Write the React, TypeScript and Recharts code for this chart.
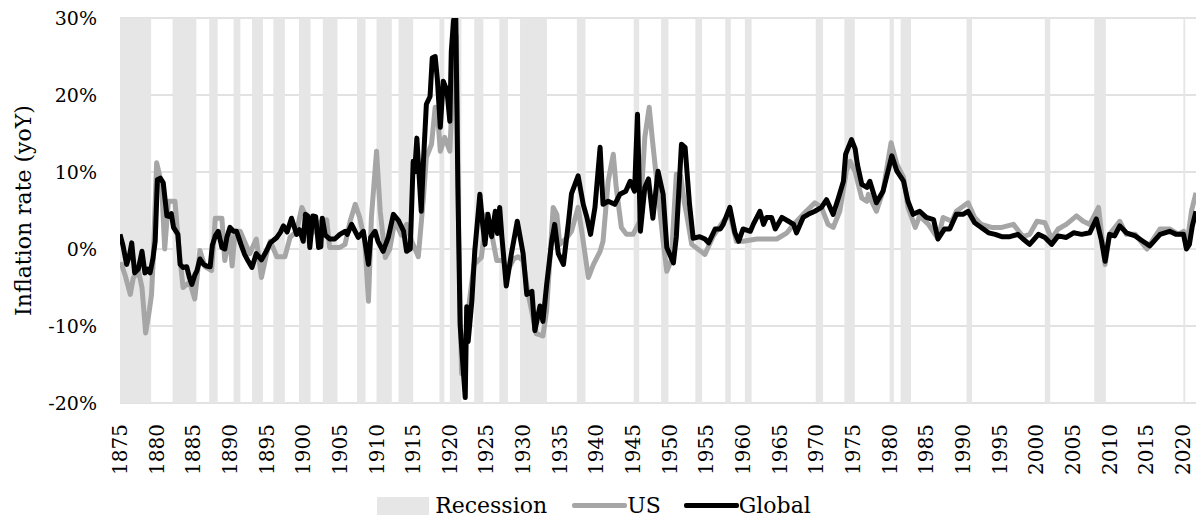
import React from 'react';
import { ComposedChart, Line, XAxis, YAxis, CartesianGrid, ReferenceArea } from 'recharts';

const FONT = '"DejaVu Serif", serif';

const xTicks = [
  1875, 1880, 1885, 1890, 1895, 1900, 1905, 1910, 1915, 1920, 1925, 1930, 1935, 1940, 1945,
  1950, 1955, 1960, 1965, 1970, 1975, 1980, 1985, 1990, 1995, 2000, 2005, 2010, 2015, 2020,
];
const yTicks = [-20, -10, 0, 10, 20, 30];

// NBER recession periods (decimal years)
const recessionStarts = [
  1873.75, 1882.17, 1887.17, 1890.5, 1893.0, 1895.92, 1899.42, 1902.67, 1907.33, 1910.0,
  1913.0, 1918.58, 1920.0, 1923.33, 1926.75, 1929.58, 1937.33, 1945.08, 1948.83, 1953.5,
  1957.58, 1960.25, 1969.92, 1973.83, 1980.0, 1981.5, 1990.5, 2001.17, 2007.92, 2020.08,
];
const recessionEnds = [
  1879.25, 1885.42, 1888.33, 1891.42, 1894.5, 1897.5, 1901.0, 1904.67, 1908.5, 1912.08,
  1915.0, 1919.25, 1921.58, 1924.58, 1927.92, 1933.25, 1938.5, 1945.83, 1949.83, 1954.42,
  1958.33, 1961.17, 1970.92, 1975.25, 1980.58, 1982.92, 1991.25, 2001.92, 2009.5, 2020.33,
];

const usYears = [
  1875.0, 1875.2, 1875.7, 1876.4, 1876.8, 1877.5, 1878.0, 1878.5, 1879.0, 1879.3, 1879.5, 1880.0,
  1880.3, 1880.7, 1881.1, 1881.6, 1882.5, 1882.9, 1883.6, 1884.5, 1885.2, 1885.9, 1886.6, 1887.5,
  1888.0, 1888.9, 1889.3, 1889.9, 1890.3, 1890.7, 1891.4, 1892.7, 1893.6, 1894.3, 1895.0, 1895.5,
  1896.4, 1897.5, 1898.2, 1899.1, 1899.8, 1900.5, 1901.1, 1902.3, 1903.2, 1903.6, 1905.0, 1905.7,
  1906.4, 1907.1, 1907.7, 1908.4, 1908.9, 1909.3, 1910.0, 1910.5, 1911.2, 1911.8, 1912.5, 1913.4,
  1914.1, 1914.8, 1915.7, 1916.4, 1916.8, 1917.5, 1918.0, 1918.4, 1918.7, 1919.3, 1920.0, 1920.5,
  1920.9, 1921.2, 1921.6, 1922.1, 1922.7, 1923.3, 1924.3, 1925.0, 1925.6, 1926.4, 1927.3, 1927.8,
  1928.7, 1929.3, 1930.0, 1930.7, 1931.8, 1932.7, 1933.2, 1934.1, 1934.6, 1935.0, 1935.9, 1936.6,
  1937.5, 1938.0, 1938.9, 1939.6, 1940.5, 1940.9, 1941.6, 1942.3, 1942.7, 1943.4, 1944.1, 1945.0,
  1945.9, 1946.6, 1947.2, 1947.7, 1948.2, 1949.1, 1949.6, 1950.2, 1950.9, 1951.5, 1952.0, 1952.3,
  1953.0, 1954.8, 1955.9, 1957.3, 1958.2, 1959.1, 1960.0, 1961.9, 1963.2, 1964.6, 1966.0, 1966.9,
  1968.2, 1969.8, 1970.7, 1971.6, 1972.3, 1973.2, 1974.1, 1974.6, 1975.3, 1976.2, 1976.9, 1977.1,
  1978.2, 1979.1, 1980.2, 1981.0, 1981.9, 1982.5, 1983.5, 1984.1, 1985.3, 1986.6, 1987.3, 1988.5,
  1989.1, 1990.7, 1991.6, 1992.5, 1993.9, 1995.3, 1996.9, 1998.2, 1999.1, 2000.1, 2001.2, 2002.1,
  2003.0, 2004.1, 2005.5, 2006.4, 2007.3, 2008.5, 2009.4, 2010.0, 2011.4, 2012.3, 2013.5, 2015.1,
  2016.0, 2016.9, 2018.2, 2019.4, 2020.1, 2020.5, 2021.2, 2021.8,
];
const usValues = [
  -2.2, -2.0, -3.4, -5.9, -3.8, -2.8, -5.0, -10.9, -8.0, -5.9, -2.0, 11.2,
  10.0, 8.0, 0.0, 6.2, 6.2, 1.5, -5.0, -4.3, -6.5, -0.2, -2.3, -2.8,
  4.0, 4.0, -1.5, 2.0, -2.2, 2.3, 2.3, -0.6, 1.3, -3.7, -0.6, 1.0,
  -1.0, -1.0, 1.5, 2.3, 5.4, 4.0, 1.9, 3.5, 3.8, 0.2, 0.2, 0.6,
  3.6, 5.8, 4.1, 1.0, -6.8, 4.1, 12.7, 4.9, -1.1, 0.0, 3.7, 1.8,
  3.2, 1.0, -1.0, 6.7, 11.9, 13.6, 18.4, 16.6, 12.7, 14.5, 12.7, 23.0,
  27.7, 2.0, -16.2, -12.0, -6.5, -2.0, -1.1, 4.5, 2.5, -1.5, -1.5, -3.0,
  -1.3, -1.0, -1.5, -5.9, -11.0, -11.3, -8.0, 5.4, 4.5, 0.6, 1.4, 2.3,
  5.4, 2.3, -3.7, -2.0, -0.3, 1.0, 8.8, 12.3, 8.0, 2.8, 1.9, 1.9,
  3.6, 14.5, 18.4, 13.6, 9.1, 1.0, -2.9, -1.5, 9.7, 9.5, 6.0, 4.5,
  0.6, -0.7, 1.6, 3.6, 4.5, 1.0, 1.0, 1.3, 1.3, 1.3, 2.1, 3.2,
  4.5, 6.0, 5.4, 3.2, 2.8, 4.9, 10.1, 11.4, 10.0, 6.6, 6.2, 7.1,
  4.9, 7.5, 13.8, 11.0, 9.3, 5.4, 2.8, 4.3, 3.2, 1.3, 4.1, 3.6,
  4.9, 6.0, 4.1, 3.2, 2.8, 2.8, 3.2, 1.6, 1.9, 3.6, 3.4, 1.3,
  2.6, 3.2, 4.3, 3.6, 3.2, 5.4, -2.0, 1.9, 3.6, 1.9, 1.9, 0.0,
  1.3, 2.6, 2.6, 1.9, 2.3, 0.2, 5.0, 7.3,
];

const globalYears = [
  1875.0, 1875.4, 1875.9, 1876.3, 1876.6, 1877.0, 1877.5, 1878.0, 1878.4, 1878.8, 1879.1, 1879.5,
  1879.8, 1880.1, 1880.5, 1880.9, 1881.2, 1881.4, 1881.8, 1882.0, 1882.3, 1882.9, 1883.2, 1883.6,
  1884.1, 1884.5, 1884.8, 1885.2, 1885.5, 1885.9, 1886.4, 1886.8, 1887.3, 1887.6, 1888.0, 1888.4,
  1888.9, 1889.3, 1889.6, 1890.0, 1890.5, 1890.9, 1891.5, 1892.0, 1892.5, 1893.0, 1893.6, 1894.3,
  1894.9, 1895.5, 1896.4, 1896.9, 1897.3, 1897.8, 1898.4, 1899.1, 1899.5, 1900.0, 1900.3, 1900.6,
  1900.9, 1901.3, 1901.7, 1902.1, 1902.4, 1902.6, 1903.0, 1903.6, 1904.3, 1905.0, 1905.7, 1906.0,
  1906.6, 1907.5, 1908.2, 1908.9, 1909.2, 1909.8, 1910.2, 1910.9, 1911.6, 1912.3, 1913.0, 1913.7,
  1914.1, 1914.6, 1915.0, 1915.2, 1915.5, 1916.1, 1916.4, 1916.8, 1917.3, 1917.6, 1918.0, 1918.3,
  1918.7, 1919.1, 1919.6, 1920.0, 1920.2, 1920.5, 1920.8, 1921.1, 1921.4, 1921.7, 1922.1, 1922.3,
  1922.5, 1923.0, 1923.4, 1924.1, 1924.5, 1924.8, 1925.2, 1925.7, 1926.2, 1926.5, 1926.8, 1927.1,
  1927.7, 1928.4, 1929.2, 1930.0, 1930.5, 1931.2, 1931.6, 1932.3, 1932.7, 1933.2, 1933.9, 1934.3,
  1934.8, 1935.5, 1936.2, 1936.6, 1937.5, 1938.2, 1938.7, 1939.2, 1939.8, 1940.5, 1940.9, 1941.6,
  1942.5, 1943.2, 1944.0, 1944.6, 1945.2, 1945.6, 1946.0, 1946.6, 1947.1, 1947.7, 1948.4, 1949.1,
  1949.6, 1950.5, 1950.9, 1951.6, 1952.1, 1952.7, 1953.2, 1954.1, 1954.8, 1955.3, 1956.2, 1956.9,
  1957.3, 1958.2, 1958.9, 1959.4, 1960.0, 1961.0, 1961.4, 1962.3, 1962.8, 1963.2, 1963.9, 1964.4,
  1965.3, 1966.2, 1966.9, 1967.3, 1968.2, 1968.9, 1969.8, 1970.7, 1971.4, 1972.3, 1973.0, 1973.7,
  1974.0, 1974.8, 1975.3, 1975.6, 1976.2, 1976.9, 1977.3, 1978.2, 1979.1, 1980.3, 1981.0, 1981.9,
  1982.5, 1983.2, 1984.1, 1985.0, 1986.0, 1986.6, 1987.5, 1988.2, 1989.1, 1990.0, 1990.7, 1991.6,
  1992.5, 1993.5, 1994.4, 1995.3, 1996.4, 1997.5, 1998.2, 1999.1, 2000.3, 2001.2, 2002.1, 2003.0,
  2004.1, 2005.1, 2006.2, 2007.3, 2008.2, 2008.9, 2009.4, 2010.0, 2010.7, 2011.4, 2012.3, 2013.5,
  2014.4, 2015.5, 2016.9, 2018.2, 2019.1, 2020.1, 2020.5, 2020.9, 2021.3, 2021.8,
];
const globalValues = [
  1.9, 0.5, -2.0, -0.8, 0.8, -3.1, -2.6, -0.3, -3.1, -2.6, -3.1, -1.2,
  1.0, 9.0, 9.2, 8.6, 6.0, 4.3, 4.2, 4.6, 2.8, 1.9, -2.0, -2.4,
  -2.3, -3.8, -4.6, -3.4, -2.8, -1.3, -2.0, -2.2, -2.3, 0.5, 1.7, 2.3,
  0.2, 0.0, 1.6, 2.8, 2.3, 2.3, 0.6, -0.7, -1.6, -2.4, -0.6, -1.4,
  -0.4, 0.8, 1.5, 2.2, 3.0, 2.2, 4.0, 1.9, 2.5, 1.0, 4.5, 4.3,
  0.2, 4.3, 4.2, 0.2, 0.3, 4.0, 1.8, 1.3, 1.3, 1.9, 2.3, 1.9,
  3.2, 1.5, 2.3, -2.0, 1.5, 2.3, 1.0, -0.3, 1.5, 4.5, 3.7, 2.3,
  -0.3, 0.0, 11.4, 10.0, 14.4, 4.9, 11.4, 18.8, 19.8, 24.8, 25.0, 22.0,
  15.8, 21.8, 20.6, 16.6, 25.7, 29.6, 31.0, 8.0, -9.8, -14.0, -19.3, -7.5,
  -12.0, -6.8, -0.3, 7.1, 3.0, 0.6, 4.5, 1.6, 4.9, 2.0, 5.4, 1.6,
  -4.8, -0.6, 3.6, -0.6, -5.9, -5.5, -10.6, -7.4, -9.4, -4.7, 1.0, 3.2,
  -0.6, -2.0, 3.6, 7.2, 9.5, 5.8, 4.1, 1.9, 5.4, 13.2, 5.8, 6.2,
  5.8, 7.1, 7.5, 8.8, 7.5, 17.5, 2.3, 8.0, 9.1, 4.0, 10.1, 7.1,
  0.2, -1.8, 1.6, 13.6, 13.2, 5.8, 1.4, 1.6, 1.3, 0.8, 2.6, 2.6,
  3.2, 5.4, 2.1, 1.0, 2.6, 2.3, 3.2, 4.9, 3.2, 4.1, 4.1, 2.6,
  4.1, 3.6, 3.2, 2.1, 4.1, 4.5, 4.9, 5.4, 6.4, 4.5, 6.6, 8.8,
  12.3, 14.2, 13.0, 11.0, 8.4, 8.0, 8.8, 6.0, 7.5, 12.1, 10.1, 8.8,
  6.2, 4.5, 4.9, 4.1, 3.8, 1.3, 2.6, 2.6, 4.5, 4.5, 4.9, 3.4,
  2.8, 2.1, 1.9, 1.6, 1.6, 1.9, 1.3, 0.6, 1.9, 1.5, 0.6, 1.7,
  1.5, 2.1, 1.9, 2.1, 3.9, 1.1, -1.6, 1.9, 1.7, 3.0, 2.1, 1.7,
  1.1, 0.4, 1.9, 2.3, 1.9, 1.9, 0.0, 0.6, 3.0, 4.9,
];

const usData = usYears.map((year, i) => ({ year, value: usValues[i] }));
const globalData = globalYears.map((year, i) => ({ year, value: globalValues[i] }));

const YearTick = ({ x, y, payload }: any) => (
  <text
    x={x}
    y={y}
    transform={`rotate(-90 ${x} ${y})`}
    textAnchor="end"
    dy="0.35em"
    fontSize={20}
    fontFamily={FONT}
    fill="#000"
  >
    {payload.value}
  </text>
);

// axis title, centred on the plot height
const AxisTitle = ({ viewBox }: any) => {
  const cx = 23;
  const cy = viewBox.y + viewBox.height / 2;
  return (
    <text
      x={cx}
      y={cy}
      transform={`rotate(-90 ${cx} ${cy})`}
      textAnchor="middle"
      dominantBaseline="central"
      fontSize={22}
      fontFamily={FONT}
      fill="#000"
    >
      Inflation rate (yoY)
    </text>
  );
};

const legendText: React.CSSProperties = { fontFamily: FONT, fontSize: 22, color: '#000' };

const ChartLegend = () => (
  <div
    style={{
      position: 'absolute',
      top: 493,
      left: 0,
      width: 1198,
      display: 'flex',
      justifyContent: 'center',
      alignItems: 'center',
      paddingRight: 10,
      boxSizing: 'border-box',
    }}
  >
    <div style={{ width: 52, height: 18, background: '#e6e6e6', marginRight: 6 }} />
    <span style={legendText}>Recession</span>
    <div style={{ width: 55, height: 5, background: '#a6a6a6', marginLeft: 25, borderRadius: 2 }} />
    <span style={legendText}>US</span>
    <div style={{ width: 55, height: 5, background: '#000', marginLeft: 23, borderRadius: 2 }} />
    <span style={legendText}>Global</span>
  </div>
);

const App = () => {
  return (
    <div style={{ position: 'absolute', left: 0, top: 0, width: 1198, height: 522, background: '#fff' }}>
      <ComposedChart width={1198} height={522} margin={{ top: 18, right: 2, bottom: 0, left: 0 }}>
        <CartesianGrid vertical={false} stroke="#d9d9d9" strokeWidth={1.5} />
        {recessionStarts.map((start, i) => (
          <ReferenceArea
            key={start}
            x1={start}
            x2={recessionEnds[i]}
            y1={-20}
            y2={30}
            fill="#e6e6e6"
            fillOpacity={1}
            stroke="none"
            ifOverflow="hidden"
          />
        ))}
        <XAxis
          type="number"
          dataKey="year"
          domain={[1875, 2021.8]}
          ticks={xTicks}
          interval={0}
          allowDataOverflow
          axisLine={false}
          tickLine={false}
          tickSize={0}
          tickMargin={21}
          height={119}
          tick={<YearTick />}
        />
        <YAxis
          type="number"
          domain={[-20, 30]}
          ticks={yTicks}
          allowDataOverflow
          axisLine={false}
          tickLine={false}
          tickSize={0}
          tickMargin={23}
          width={120}
          tickFormatter={(v: number) => `${v}%`}
          tick={{ fontSize: 19, fontFamily: FONT, fill: '#000' }}
          label={<AxisTitle />}
        />
        <Line
          data={usData}
          dataKey="value"
          type="linear"
          stroke="#a6a6a6"
          strokeWidth={5}
          strokeLinejoin="round"
          dot={false}
          isAnimationActive={false}
        />
        <Line
          data={globalData}
          dataKey="value"
          type="linear"
          stroke="#000"
          strokeWidth={5}
          strokeLinejoin="round"
          dot={false}
          isAnimationActive={false}
        />
      </ComposedChart>
      <ChartLegend />
    </div>
  );
};

export default App;
